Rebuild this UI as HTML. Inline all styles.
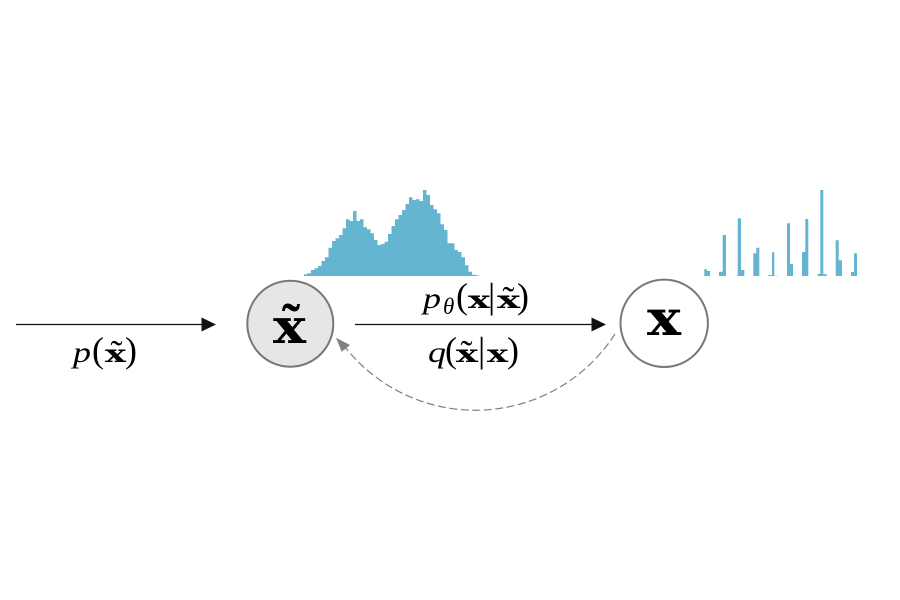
<!DOCTYPE html>
<html><head><meta charset="utf-8"><style>
html,body{margin:0;padding:0;background:#fff}
svg{display:block}
text{fill:#000}
.s{font-family:"Liberation Serif",serif}
.p{font-family:"Liberation Serif",serif;font-size:36px}
.t{font-family:"Liberation Serif",serif;font-size:36px}
.i{font-family:"Liberation Serif",serif;font-style:italic;font-size:30px}
.b{font-family:"DejaVu Serif",serif;font-weight:bold;font-size:24px}
</style></head><body>
<svg id="g" width="900" height="600" viewBox="0 0 900 600" xmlns="http://www.w3.org/2000/svg">
<g fill="#64b5cf">
<path d="M304 276V274.3H307.5V273.3H311V270H314.5V268.3H318V266H321.5V261H325V257.3H328.5V247.7H332V241H335.5V238.3H339V235H342.5V228.3H346V219.3H349.5V221H353V211H356.5V221H360V219.3H363.500V227.300H367V229.300H370.500V233.300H374V240H377.500V245H381V244H384.500V241.700H388V234H391.500V226H395V219.300H398.500V215H402V210H405.500V204H409V197.300H412.500V200H416V199.300H419.500V201H423V190H426.500V195H430V205H433.500V209.300H437V213.300H440.500V224.300H444V230H447.500V243.300H451V243.300H454.500V250H458V252H461.500V257.300H465V265.300H468.500V271.700H472V274.700H475.500V275.300H479V276Z"/>
<path d="M704.300 276V269.300H707V271H710V276Z"/>
<path d="M719 276V271.700H722.700V235H726V276Z"/>
<path d="M735 276V275.700H737.700V218.300H741V270H744.300V276Z"/>
<path d="M753.300 276V253.300H756.300V247.700H759.300V276Z"/>
<path d="M768.300 276V275H772V252.300H774.300V275.700H778V276Z"/>
<path d="M787 276V223.300H790V264H793V276Z"/>
<path d="M802 276V252H805.300V219H808.300V276Z"/>
<path d="M817.700 276V274H820.300V190H823.300V274.300H826.700V276Z"/>
<path d="M835.700 276V240.300H838.700V260.300H842V276Z"/>
<path d="M851 276V272H854V253.300H857V276Z"/>
</g>
<circle cx="290.300" cy="323.700" r="43" fill="#e6e6e6" stroke="#777" stroke-width="2"/>
<circle cx="664.200" cy="323.300" r="43.700" fill="#fff" stroke="#777" stroke-width="2"/>
<line x1="16" y1="324.500" x2="203" y2="324.500" stroke="#111" stroke-width="1.200"/>
<polygon points="201.500,317.500 216,324.500 201.500,331.500" fill="#111"/>
<line x1="355" y1="324.500" x2="593" y2="324.500" stroke="#111" stroke-width="1.200"/>
<polygon points="591.500,317.500 606,324.500 591.500,331.500" fill="#111"/>
<path d="M615 334A166 166 0 0 1 345 347" fill="none" stroke="#808080" stroke-width="1.200" stroke-dasharray="8 3.500"/>
<polygon points="336,337.700 350,345 341.700,351.700" fill="#808080"/>

<text class="b" x="273" y="343" style="font-size:48px" textLength="33" lengthAdjust="spacingAndGlyphs">x</text>
<text class="s" x="291" y="341" style="font-size:54px" text-anchor="middle" font-weight="bold">˜</text>
<text class="b" x="647" y="335" style="font-size:49px" textLength="34" lengthAdjust="spacingAndGlyphs">x</text>

<text class="i" x="73" y="362" textLength="18" lengthAdjust="spacingAndGlyphs">p</text>
<text class="p" x="92" y="362">(</text>
<text class="b" x="105" y="362" textLength="21" lengthAdjust="spacingAndGlyphs">x</text>
<text class="t" x="116.500" y="365" text-anchor="middle">˜</text>
<text class="p" x="125" y="362">)</text>

<text class="i" x="423" y="308" textLength="18" lengthAdjust="spacingAndGlyphs">p</text>
<text class="i" x="443" y="314" style="font-size:23px">θ</text>
<text class="p" x="456" y="308">(</text>
<text class="b" x="468" y="308" textLength="22" lengthAdjust="spacingAndGlyphs">x</text>
<text class="p" x="488" y="308">|</text>
<text class="b" x="497" y="308" textLength="23" lengthAdjust="spacingAndGlyphs">x</text>
<text class="t" x="508.500" y="311" text-anchor="middle">˜</text>
<text class="p" x="517" y="308">)</text>

<text class="i" x="428" y="362" textLength="18" lengthAdjust="spacingAndGlyphs">q</text>
<text class="p" x="445" y="362">(</text>
<text class="b" x="456" y="362" textLength="22" lengthAdjust="spacingAndGlyphs">x</text>
<text class="t" x="466.500" y="365" text-anchor="middle">˜</text>
<text class="p" x="478" y="362">|</text>
<text class="b" x="487" y="362" textLength="21" lengthAdjust="spacingAndGlyphs">x</text>
<text class="p" x="507" y="362">)</text>
</svg>
</body></html>
